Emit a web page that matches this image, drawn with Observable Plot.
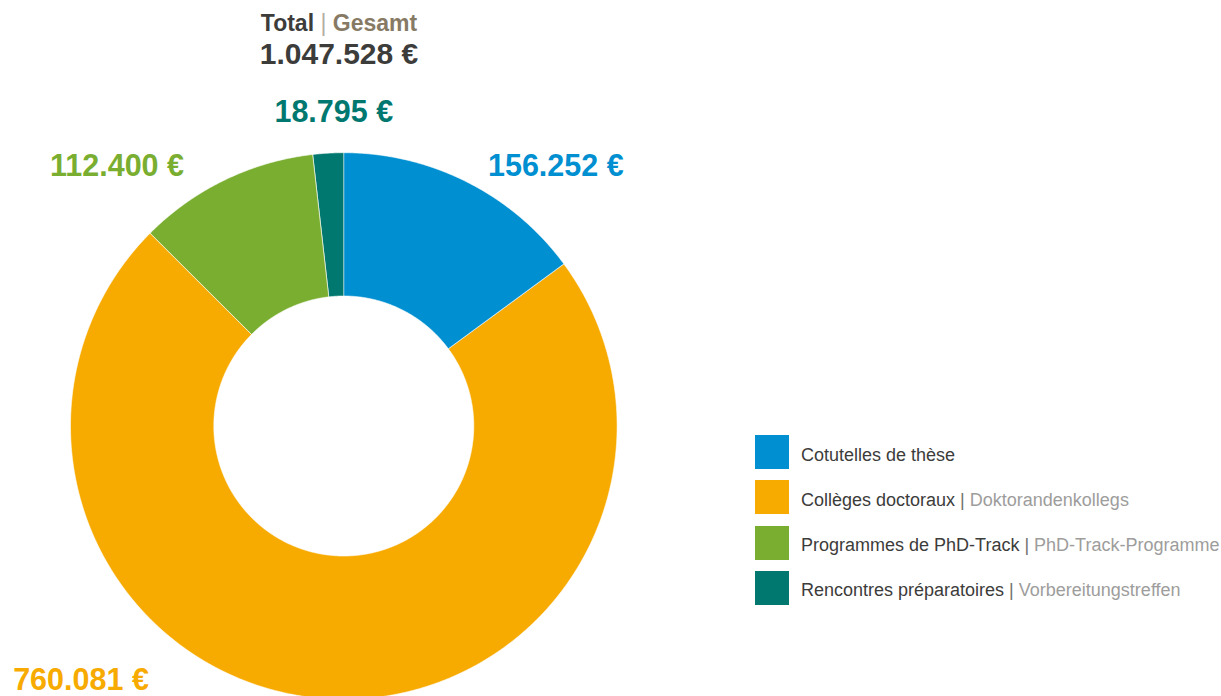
<!DOCTYPE html>
<html>
<head>
<meta charset="utf-8">
<script src="https://cdn.jsdelivr.net/npm/d3@7"></script>
<script src="https://cdn.jsdelivr.net/npm/@observablehq/plot@0.6"></script>
<style>
  html, body { margin: 0; padding: 0; background: #fff; }
  #wrap { position: relative; width: 1221px; height: 696px; overflow: hidden; font-family: "Liberation Sans", Arial, sans-serif; }
  #title { position: absolute; left: 139px; width: 400px; top: 11.5px; text-align: center; font-size: 23px; line-height: 23px; font-weight: bold; white-space: nowrap; }
  #title .a { color: #3c3c3b; }
  #title .sep { color: #b5aea3; font-weight: normal; }
  #title .b { color: #877a65; }
  #legend { position: absolute; left: 755px; top: 435px; }
  .row { position: relative; height: 45.3px; }
  .sw { position: absolute; left: 0; top: 0; width: 34px; height: 34px; }
  .lab { position: absolute; left: 46px; top: 10.5px; font-size: 18px; line-height: 18px; white-space: nowrap; color: #3c3c3b; }
  .lab .de { color: #9d9d9c; }
  .lab .sep { color: #6f6f6e; }
</style>
</head>
<body>
<div id="wrap"></div>
<script>
// ---- data ----
const categories = ["Cotutelles de thèse", "Collèges doctoraux", "Programmes de PhD-Track", "Rencontres préparatoires"];
const categoriesDe = ["", "Doktorandenkollegs", "PhD-Track-Programme", "Vorbereitungstreffen"];
const values = [156252, 760081, 112400, 18795];
const colors = ["#008fd0", "#f7aa00", "#7aae31", "#00786f"];
const titleParts = ["Total", "Gesamt"];

// ---- layout (chart units, origin at donut centre, y up) ----
const outerR = 273.3, innerR = 130;
const labelAnchors = [[212, 250.5], [-262.8, -264], [-226.8, 250.5], [-10, 303.8]];
const totalAnchor = [-4.8, 362.2];

const W = 1221, H = 696, cx = 343.3, cy = 425.5;

const fmt = d3.formatLocale({decimal: ",", thousands: ".", grouping: [3], currency: ["", " €"]}).format("$,");

// slice polygons from pie angles
const arcs = d3.pie().sort(null)(values);
const slicePts = [];
arcs.forEach((a, i) => {
  const n = Math.max(4, Math.ceil((a.endAngle - a.startAngle) / (Math.PI / 720)));
  for (let k = 0; k <= n; k++) {
    const t = a.startAngle + (a.endAngle - a.startAngle) * k / n;
    slicePts.push({cat: categories[i], x: outerR * Math.sin(t), y: outerR * Math.cos(t)});
  }
  for (let k = n; k >= 0; k--) {
    const t = a.startAngle + (a.endAngle - a.startAngle) * k / n;
    slicePts.push({cat: categories[i], x: innerR * Math.sin(t), y: innerR * Math.cos(t)});
  }
});

const labels = categories.map((c, i) => ({cat: c, text: fmt(values[i]), x: labelAnchors[i][0], y: labelAnchors[i][1]}));

const chart = Plot.plot({
  width: W,
  height: H,
  margin: 0,
  x: {domain: [-cx, W - cx], axis: null},
  y: {domain: [cy - H, cy], axis: null},
  color: {domain: categories, range: colors},
  style: {fontFamily: '"Liberation Sans", Arial, sans-serif', background: "transparent"},
  marks: [
    Plot.line(slicePts, {x: "x", y: "y", z: "cat", fill: "cat", stroke: "#ffffff", strokeWidth: 0.6, curve: "linear-closed"}),
    Plot.text(labels, {x: "x", y: "y", text: "text", fill: "cat", fontSize: 30.5, fontWeight: "bold", textAnchor: "middle", lineAnchor: "bottom"}),
    Plot.text([fmt(d3.sum(values))], {x: () => totalAnchor[0], y: () => totalAnchor[1], text: d => d, fill: "#3c3c3b", fontSize: 30, fontWeight: "bold", textAnchor: "middle", lineAnchor: "bottom"})
  ]
});

const wrap = document.getElementById("wrap");
wrap.appendChild(chart);

// title
const title = document.createElement("div");
title.id = "title";
title.innerHTML = `<span class="a">${titleParts[0]}</span><span class="sep"> | </span><span class="b">${titleParts[1]}</span>`;
wrap.appendChild(title);

// legend
const legend = document.createElement("div");
legend.id = "legend";
categories.forEach((c, i) => {
  const row = document.createElement("div");
  row.className = "row";
  const sw = document.createElement("div");
  sw.className = "sw";
  sw.style.background = colors[i];
  const lab = document.createElement("div");
  lab.className = "lab";
  lab.innerHTML = c + (categoriesDe[i] ? `<span class="sep"> | </span><span class="de">${categoriesDe[i]}</span>` : "");
  row.appendChild(sw);
  row.appendChild(lab);
  legend.appendChild(row);
});
wrap.appendChild(legend);
chart.style.position = "absolute";
chart.style.left = "0px";
chart.style.top = "0px";
</script>
</body>
</html>
